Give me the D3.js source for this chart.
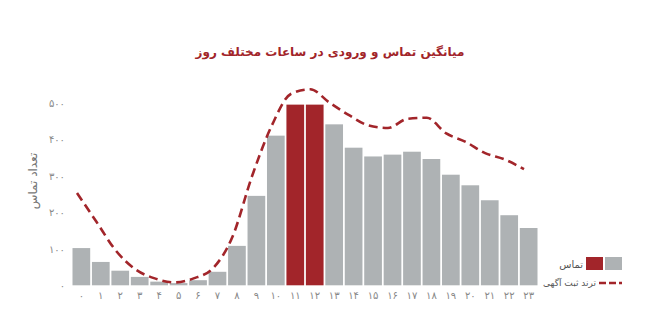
<!DOCTYPE html>
<html>
<head>
<meta charset="utf-8">
<script src="https://cdn.jsdelivr.net/npm/d3@7"></script>
<style>
  body { margin: 0; background: #fff; }
  text { font-family: "DejaVu Sans", sans-serif; }
</style>
</head>
<body>
<div class="chart"></div>
<script>
// data
const hours = d3.range(0, 24);
const calls = [102, 64, 40, 23, 10, 6, 14, 37, 108, 245, 410, 495, 495, 441, 377, 353, 358, 366, 346, 303, 274, 233, 192, 157];
const trend = [253, 174, 95, 44, 19, 8, 19, 47, 133, 298, 435, 524, 537, 500, 466, 438, 431, 456, 459, 416, 393, 362, 345, 318];
const peakHours = [11, 12];
const yTicks = [0, 100, 200, 300, 400, 500];

const title = "میانگین تماس و ورودی در ساعات مختلف روز";
const yLabel = "تعداد تماس";
const legendCalls = "تماس";
const legendTrend = "ترند ثبت آگهی";

const red = "#a2252a";
const grey = "#aeb2b4";

const faDigits = "۰۱۲۳۴۵۶۷۸۹";
const fa = n => String(n).replace(/\d/g, d => faDigits[+d]);

const width = 651, height = 319;

const svg = d3.select(".chart")
    .append("svg")
    .attr("width", width)
    .attr("height", height);

// scales
const x = d3.scaleBand()
    .domain(hours)
    .range([72.5, 537.5])
    .paddingInner(0.09)
    .paddingOuter(0);

// the trend line sits a little left of the bar centres
const xLine = d3.scalePoint()
    .domain(hours)
    .range([77, 524]);

const y = d3.scaleLinear()
    .domain([0, 500])
    .range([285.3, 102.8]);

// title
svg.append("text")
    .attr("x", 330)
    .attr("y", 56)
    .attr("text-anchor", "middle")
    .attr("fill", red)
    .attr("font-size", 12)
    .attr("font-weight", "bold")
    .attr("direction", "rtl")
    .text(title);

// y axis (labels only)
const yAxis = svg.append("g")
    .attr("transform", "translate(65,0)")
    .call(d3.axisLeft(y).tickValues(yTicks).tickSize(0).tickPadding(0).tickFormat(fa));
yAxis.select(".domain").remove();
yAxis.selectAll("text")
    .attr("fill", "#888")
    .attr("font-size", 10)
    .style("font-family", "DejaVu Sans, sans-serif");

svg.append("text")
    .attr("transform", "translate(37,181) rotate(-90)")
    .attr("text-anchor", "middle")
    .attr("fill", "#777")
    .attr("font-size", 12)
    .attr("direction", "rtl")
    .text(yLabel);

// x axis (labels only)
const xAxis = svg.append("g")
    .attr("transform", "translate(0,292)")
    .call(d3.axisBottom(x).tickSize(0).tickPadding(0).tickFormat(fa));
xAxis.select(".domain").remove();
xAxis.selectAll("text")
    .attr("fill", "#888")
    .attr("font-size", 10)
    .style("font-family", "DejaVu Sans, sans-serif");

// bars
svg.selectAll(".bar")
    .data(hours)
    .enter()
    .append("rect")
    .attr("class", "bar")
    .attr("x", d => x(d))
    .attr("width", x.bandwidth())
    .attr("y", d => y(calls[d]))
    .attr("height", d => y(0) - y(calls[d]))
    .attr("fill", d => peakHours.includes(d) ? red : grey);

// trend line
const line = d3.line()
    .x(d => xLine(d))
    .y(d => y(trend[d]))
    .curve(d3.curveMonotoneX);

svg.append("path")
    .attr("d", line(hours))
    .attr("fill", "none")
    .attr("stroke", red)
    .attr("stroke-width", 2.6)
    .attr("stroke-dasharray", "9,5");

// legend
svg.append("rect")
    .attr("x", 605).attr("y", 257)
    .attr("width", 17).attr("height", 13)
    .attr("fill", grey);
svg.append("rect")
    .attr("x", 586).attr("y", 257)
    .attr("width", 17).attr("height", 13)
    .attr("fill", red);
svg.append("text")
    .attr("x", 583).attr("y", 268)
    .attr("text-anchor", "start")
    .attr("direction", "rtl")
    .attr("font-size", 10)
    .attr("fill", "#555")
    .text(legendCalls);

svg.append("line")
    .attr("x1", 599).attr("x2", 622)
    .attr("y1", 283).attr("y2", 283)
    .attr("stroke", red)
    .attr("stroke-width", 2.6)
    .attr("stroke-dasharray", "7,3");
svg.append("text")
    .attr("x", 596).attr("y", 286)
    .attr("text-anchor", "start")
    .attr("direction", "rtl")
    .attr("font-size", 9)
    .attr("fill", "#555")
    .text(legendTrend);
</script>
</body>
</html>
